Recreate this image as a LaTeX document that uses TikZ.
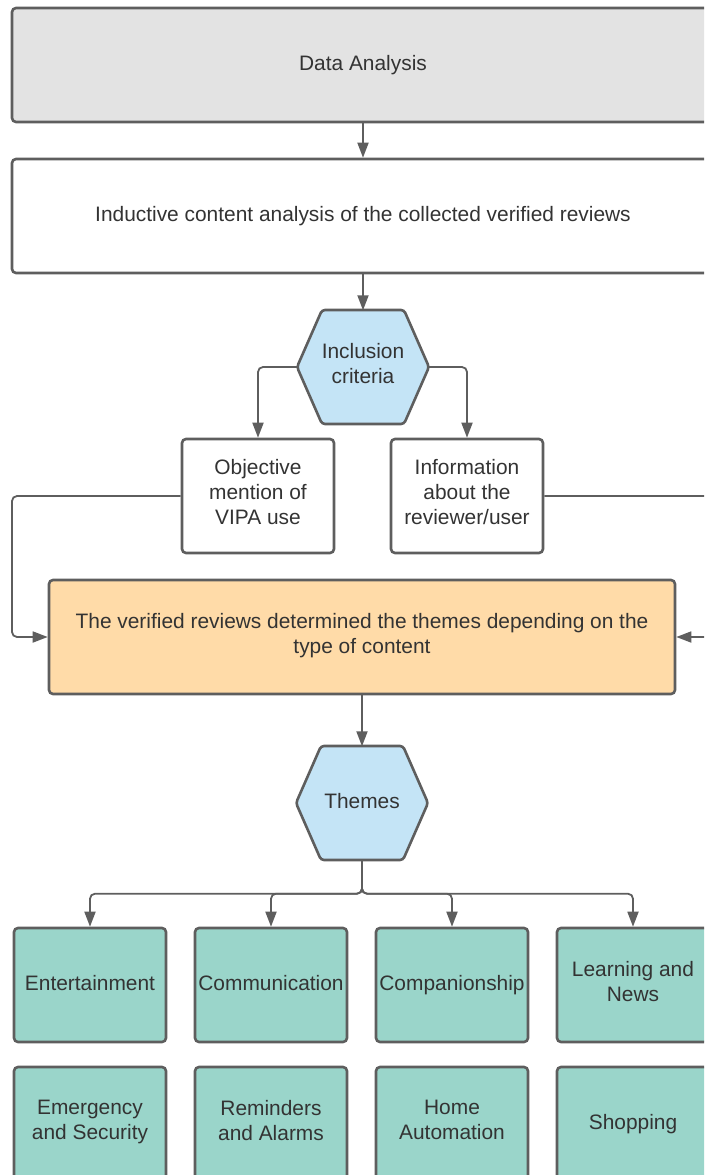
\documentclass[tikz,border=0pt]{standalone}
\usepackage{fontspec}
\setmainfont{Liberation Sans}
\usetikzlibrary{arrows.meta}

\definecolor{linegray}{HTML}{5E5E5E}
\definecolor{textgray}{HTML}{333333}
\definecolor{headgray}{HTML}{E3E3E3}
\definecolor{hexblue}{HTML}{C4E4F6}
\definecolor{reviewfill}{HTML}{FFDBA8}
\definecolor{themefill}{HTML}{9AD5CA}

\tikzstyle{label} = [text=textgray, align=center, inner sep=0pt, font=\fontsize{20.9}{25}\selectfont,
  execute at begin node=\strut, execute at end node=\strut]
\tikzstyle{box} = [label, draw=linegray, line width=2.6pt, rounded corners=4pt]
\tikzstyle{wide box} = [box, minimum width=702pt, minimum height=114pt]
\tikzstyle{small box} = [box, minimum width=152pt, minimum height=114pt]
\tikzstyle{theme box} = [small box, fill=themefill]
\tikzstyle{hexlabel} = [label, minimum width=132pt, minimum height=113pt]
\tikzstyle{hexshape} = [draw=linegray, line width=2.6pt, fill=hexblue, rounded corners=3pt]
\tikzstyle{edge} = [draw=linegray, line width=1.8pt, rounded corners=5pt]
\tikzstyle{arrowdecorate} = [edge, -{Triangle[length=15pt,width=11pt]}]

\begin{document}
\begin{tikzpicture}[x=1pt,y=-1pt]
      \useasboundingbox (0,0) rectangle (704,1175);
      \clip (0,0) rectangle (704,1175);
      % nodes
      \node[wide box, fill=headgray] (data) at (363,65) {Data Analysis};
      \node[wide box, fill=white] (inductive) at (363,216) {Inductive content analysis of the collected verified reviews};
      \foreach \nodename/\x/\y/\text in {
        incl/363/367/{Inclusion\\criteria},
        themes/362/803/Themes}
      {
        \draw[hexshape] (\x,\y) +(-66,0) -- +(-41,-57) -- +(41,-57) -- +(66,0) -- +(41,57) -- +(-41,57) -- cycle;
        \node[hexlabel] (\nodename) at (\x,\y) {\text};
      };
      \node[small box, fill=white] (objective) at (258,496) {Objective\\mention of\\VIPA use};
      \node[small box, fill=white] (info) at (467,496) {Information\\about the\\reviewer/user};
      \node[box, fill=reviewfill, minimum width=626pt, minimum height=114pt] (review) at (362,637)
        {The verified reviews determined the themes depending on the\\type of content};
      \foreach \nodename/\x/\y/\text in {
        ent/90/985/Entertainment,
        comm/271/985/Communication,
        comp/452/985/Companionship,
        learn/633/985/{Learning and\\News},
        emerg/90/1124/{Emergency\\and Security},
        remind/271/1124/{Reminders\\and Alarms},
        home/452/1124/{Home\\Automation},
        shop/633/1124/Shopping}
      {
        \node[theme box] (\nodename) at (\x,\y) {\text};
      };
      \coordinate (lbend) at (12,496);
      \coordinate (rbend) at (724,496);

      %edges
      \path[arrowdecorate] (data) -- (inductive);
      \path[arrowdecorate] (inductive) -- (incl);
      \path[arrowdecorate] (incl.west) -| (objective.north);
      \path[arrowdecorate] (incl.east) -| (info.north);
      \path[arrowdecorate] (objective.west) -- (lbend) |- (review.west);
      \path[arrowdecorate] (info.east) -- (rbend) |- (review.east);
      \path[arrowdecorate] (review) -- (themes);
      \foreach \endnode in {ent, comm, comp, learn}
      {
        \path[arrowdecorate] (themes.south) -- ++(0,34) -| (\endnode.north);
      };
\end{tikzpicture}
\end{document}
